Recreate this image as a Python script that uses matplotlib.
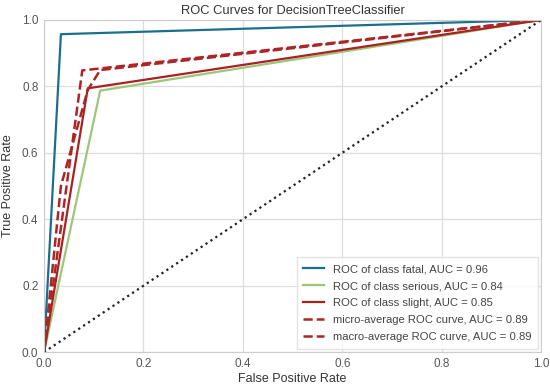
import matplotlib
matplotlib.use("Agg")
import matplotlib.pyplot as plt

# ROC points
fatal_fpr = [0.0, 0.034, 1.0]
fatal_tpr = [0.0, 0.957, 1.0]
serious_fpr = [0.0, 0.113, 1.0]
serious_tpr = [0.0, 0.787, 1.0]
slight_fpr = [0.0, 0.088, 1.0]
slight_tpr = [0.0, 0.794, 1.0]
micro_fpr = [0.0, 0.077, 1.0]
micro_tpr = [0.0, 0.848, 1.0]
macro_fpr = [0.0, 0.034, 0.088, 0.113, 1.0]
macro_tpr = [0.0, 0.50, 0.789, 0.849, 1.0]

labels = [
    "ROC of class fatal, AUC = 0.96",
    "ROC of class serious, AUC = 0.84",
    "ROC of class slight, AUC = 0.85",
    "micro-average ROC curve, AUC = 0.89",
    "macro-average ROC curve, AUC = 0.89",
]

plt.rcParams["font.family"] = ["Liberation Sans", "DejaVu Sans"]

fig = plt.figure(figsize=(5.5, 3.9), dpi=100)
ax = fig.add_axes([0.08, 0.097, 0.904, 0.852])

ax.plot(fatal_fpr, fatal_tpr, color="#1b6f8c", lw=1.6, label=labels[0])
ax.plot(serious_fpr, serious_tpr, color="#9dc67a", lw=1.6, label=labels[1])
ax.plot(slight_fpr, slight_tpr, color="#a82222", lw=1.6, label=labels[2])
ax.plot(micro_fpr, micro_tpr, color="#b02424", lw=1.8, ls="--", label=labels[3])
ax.plot(macro_fpr, macro_tpr, color="#a82828", lw=1.8, ls="--", label=labels[4])
ax.plot([0, 1], [0, 1], color="#222222", lw=1.6, ls=":")

ax.set_xlim(0, 1)
ax.set_ylim(0, 1)
ax.set_xticks([0, 0.2, 0.4, 0.6, 0.8, 1.0])
ax.set_yticks([0, 0.2, 0.4, 0.6, 0.8, 1.0])
ax.grid(True, color="#dddddd", lw=0.9)
ax.set_axisbelow(True)
for s in ax.spines.values():
    s.set_color("#cccccc")
ax.tick_params(colors="#555555", labelsize=8.5, length=0, pad=4)

ax.set_title("ROC Curves for DecisionTreeClassifier", fontsize=9.3, color="#333333", pad=4)
ax.set_xlabel("False Positive Rate", fontsize=9, color="#333333", labelpad=2)
ax.set_ylabel("True Positive Rate", fontsize=9, color="#333333", labelpad=6)

leg = ax.legend(loc="lower right", fontsize=8.1, frameon=True, fancybox=False,
                handlelength=1.8, labelspacing=0.62, borderpad=0.6,
                borderaxespad=0.3)
leg.get_frame().set_edgecolor("#dddddd")
for t in leg.get_texts():
    t.set_color("#444444")

fig.savefig("out.png", dpi=100)
